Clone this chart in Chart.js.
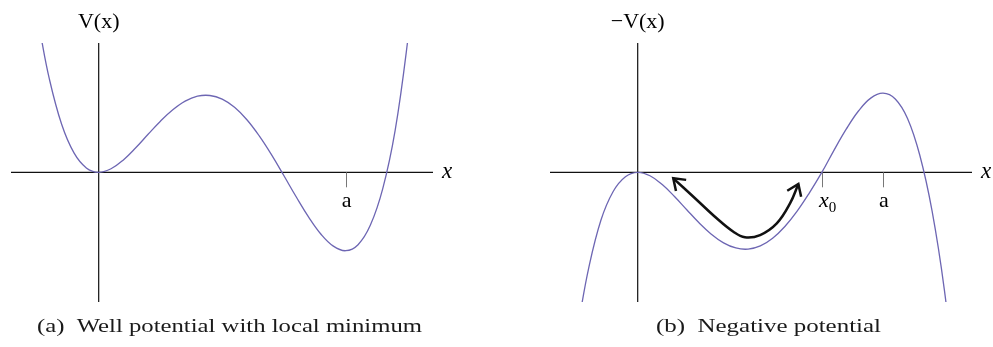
<!DOCTYPE html>
<html>
<head>
<meta charset="utf-8">
<script src="https://cdn.jsdelivr.net/npm/chart.js@4.4.1/dist/chart.umd.min.js"></script>
<style>
  html, body { margin: 0; padding: 0; background: #fff; }
  #wrap { position: relative; width: 993px; height: 347px; overflow: hidden; background: #fff; }
  canvas { position: absolute; top: 0; }
  .cap { position: absolute; top: 313px; font-family: "Liberation Serif", "DejaVu Serif", serif;
         font-size: 19px; line-height: 26px; color: #1a1a1a; white-space: nowrap;
         transform-origin: 0 50%; }
</style>
</head>
<body>
<div id="wrap">
  <canvas id="wellChart" width="496" height="347" style="left:0px"></canvas>
  <canvas id="negChart" width="497" height="347" style="left:496px"></canvas>
  <div class="cap" id="capA" style="left:37px" data-width="385">(a)&nbsp;&nbsp;Well potential with local minimum</div>
  <div class="cap" id="capB" style="left:656px" data-width="225">(b)&nbsp;&nbsp;Negative potential</div>
</div>
<script>
// Sample positions along x (units where x = a is 1)
const xSamples = [-0.24, -0.2, -0.15, -0.1, -0.05, 0, 0.05, 0.1, 0.15, 0.2, 0.25, 0.3,
                  0.35, 0.4, 0.45, 0.5, 0.55, 0.6, 0.65, 0.7, 0.75, 0.8, 0.85, 0.9,
                  0.95, 1.0, 1.05, 1.1, 1.15, 1.2, 1.25, 1.3];

// V(x): well potential with a local minimum near x = a
const wellValues = [1.80, 1.17, 0.60, 0.242, 0.055, 0, 0.044, 0.155, 0.307, 0.475, 0.639, 0.781,
                    0.889, 0.951, 0.960, 0.914, 0.812, 0.657, 0.455, 0.218, -0.043, -0.309, -0.560, -0.774,
                    -0.923, -0.980, -0.905, -0.660, -0.205, 0.52, 1.62, 3.0];

// -V(x): the inverted potential
const negValues = [-1.86, -1.20, -0.60, -0.240, -0.055, 0, -0.043, -0.153, -0.302, -0.468, -0.631, -0.773,
                   -0.882, -0.946, -0.960, -0.920, -0.824, -0.677, -0.485, -0.256, -0.005, 0.274, 0.539, 0.766,
                   0.927, 0.989, 0.917, 0.673, 0.213, -0.483, -1.466, -2.795];

// Double-headed arrow drawn just above the dip of -V(x)
const arrowX = [0.145, 0.227, 0.322, 0.390, 0.437, 0.499, 0.567, 0.621, 0.655];
const arrowY = [-0.075, -0.305, -0.575, -0.743, -0.812, -0.784, -0.638, -0.388, -0.146];

// Marked points on the x axis
const wellTickValues = [1];
const wellTickMain = ['a'];
const wellTickSub = [''];
const negTickValues = [0.751, 1];
const negTickMain = ['x', 'a'];
const negTickSub = ['0', ''];

const CURVE = '#6d66b3';
const SERIF = '"Liberation Serif", "DejaVu Serif", serif';

function pts(xs, ys) { return xs.map((x, i) => ({ x, y: ys[i] })); }

// Draws the crossing axes, tick marks and their labels from the chart's own scales
const crossAxes = {
  id: 'crossAxes',
  beforeDatasetsDraw(chart, args, o) {
    const { ctx, chartArea: a, scales: { x, y } } = chart;
    const px0 = x.getPixelForValue(0), py0 = y.getPixelForValue(0);
    ctx.save();
    ctx.strokeStyle = '#111';
    ctx.lineWidth = 1.2;
    ctx.beginPath();
    ctx.moveTo(a.left, py0); ctx.lineTo(a.right, py0);
    ctx.moveTo(px0, a.top); ctx.lineTo(px0, a.bottom);
    ctx.stroke();

    ctx.strokeStyle = '#777';
    ctx.lineWidth = 1;
    o.tickValues.forEach(v => {
      const px = Math.round(x.getPixelForValue(v)) + 0.5;
      ctx.beginPath();
      ctx.moveTo(px, py0); ctx.lineTo(px, py0 + 15);
      ctx.stroke();
    });

    ctx.fillStyle = '#000';
    ctx.textBaseline = 'middle';
    // axis names
    ctx.textAlign = 'center';
    ctx.font = '22px ' + SERIF;
    ctx.fillText(o.yLabel, px0, a.top - 21);
    ctx.textAlign = 'left';
    ctx.font = 'italic 23px ' + SERIF;
    ctx.fillText('x', a.right + 9, py0);

    // tick labels
    o.tickValues.forEach((v, i) => {
      const px = x.getPixelForValue(v);
      const main = o.tickMain[i], sub = o.tickSub[i];
      ctx.font = (main === 'x' ? 'italic ' : '') + '22px ' + SERIF;
      const mw = ctx.measureText(main).width;
      ctx.textAlign = 'left';
      if (sub) {
        const left = px - 3;
        ctx.fillText(main, left, py0 + 29);
        ctx.font = '15px ' + SERIF;
        ctx.fillText(sub, left + mw, py0 + 36);
      } else {
        ctx.fillText(main, px - mw / 2 + 1, py0 + 29);
      }
    });
    ctx.restore();
  },
  afterDatasetsDraw(chart, args, o) {
    if (o.arrowDataset === undefined) return;
    const meta = chart.getDatasetMeta(o.arrowDataset);
    const p = meta.data;
    const { ctx } = chart;
    const head = (tip, from) => {
      const ang = Math.atan2(tip.y - from.y, tip.x - from.x);
      const len = 13, spread = 0.62;
      ctx.beginPath();
      ctx.moveTo(tip.x - len * Math.cos(ang - spread), tip.y - len * Math.sin(ang - spread));
      ctx.lineTo(tip.x, tip.y);
      ctx.lineTo(tip.x - len * Math.cos(ang + spread), tip.y - len * Math.sin(ang + spread));
      ctx.stroke();
    };
    ctx.save();
    ctx.strokeStyle = '#111';
    ctx.lineWidth = 2.5;
    ctx.lineJoin = 'miter';
    ctx.lineCap = 'butt';
    head(p[0], p[1]);
    head(p[p.length - 1], p[p.length - 2]);
    ctx.restore();
  }
};

function makeChart(id, values, xRange, axisOpts, extra) {
  const datasets = [{
    data: pts(xSamples, values),
    borderColor: CURVE,
    borderWidth: 1.3,
    pointRadius: 0,
    tension: 0.4,
    fill: false
  }].concat(extra || []);
  return new Chart(document.getElementById(id), {
    type: 'line',
    data: { datasets },
    options: {
      responsive: false,
      animation: false,
      devicePixelRatio: 1,
      layout: { padding: axisOpts.padding },
      scales: {
        x: { type: 'linear', min: xRange[0], max: xRange[1], display: false },
        y: { type: 'linear', min: -1.621, max: 1.616, display: false }
      },
      plugins: {
        legend: { display: false },
        tooltip: { enabled: false },
        crossAxes: axisOpts
      }
    },
    plugins: [crossAxes]
  });
}

makeChart('wellChart', wellValues, [-0.355, 1.3534], {
  padding: { left: 11, right: 63, top: 43, bottom: 45 },
  yLabel: 'V(x)',
  tickValues: wellTickValues, tickMain: wellTickMain, tickSub: wellTickSub
});

makeChart('negChart', negValues, [-0.3575, 1.3628], {
  padding: { left: 54, right: 21, top: 43, bottom: 45 },
  yLabel: '\u2212V(x)',
  tickValues: negTickValues, tickMain: negTickMain, tickSub: negTickSub,
  arrowDataset: 1
}, [{
  data: pts(arrowX, arrowY),
  borderColor: '#111',
  borderWidth: 2.5,
  pointRadius: 0,
  tension: 0.4,
  fill: false
}]);

// Stretch each caption horizontally to its set width
document.querySelectorAll('.cap').forEach(el => {
  const target = parseFloat(el.dataset.width);
  const w = el.getBoundingClientRect().width;
  el.style.transform = 'scaleX(' + (target / w).toFixed(4) + ')';
});
</script>
</body>
</html>
